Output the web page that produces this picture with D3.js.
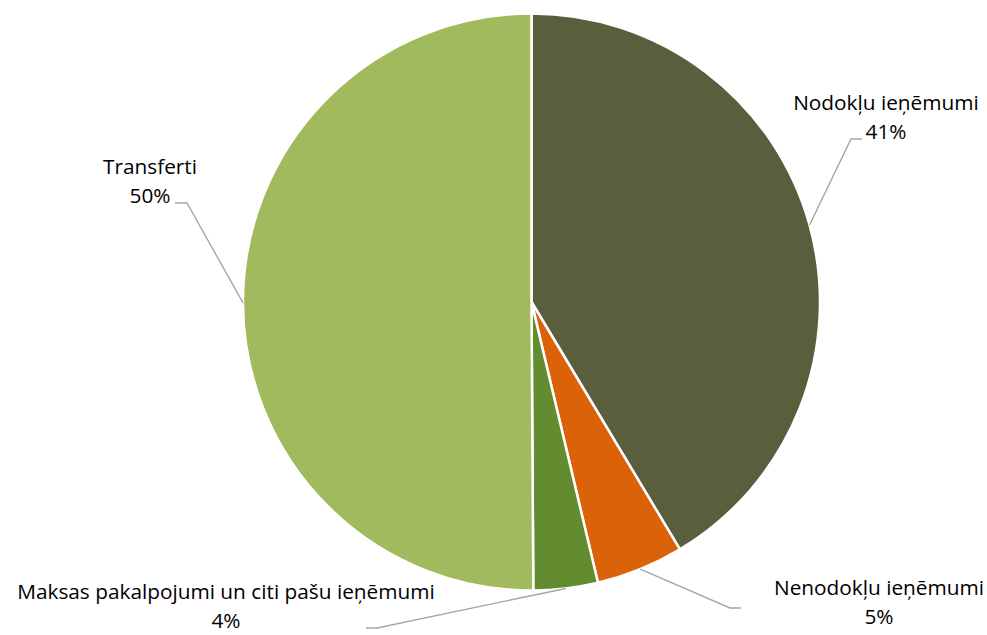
<!DOCTYPE html>
<html><head><meta charset="utf-8">
<script src="https://cdn.jsdelivr.net/npm/d3@7/dist/d3.min.js"></script>
<style>body{margin:0;background:#fff}svg{display:block}</style>
</head><body>
<svg id="c" width="987" height="635"></svg>
<script>
const categories = ["Nodokļu ieņēmumi", "Nenodokļu ieņēmumi", "Maksas pakalpojumi un citi pašu ieņēmumi", "Transferti"];
const values = [41.4, 4.9, 3.6, 50.1];
const colors = ["#5A5E3D", "#DC6209", "#638B2F", "#A1BA5D"];

// label layout: text centre x, first baseline y, elbow point, line end
const labelLayout = [
  {x: 886, y: 110, ex: 851, ey: 139, hx: 862},
  {x: 879, y: 595, ex: 730, ey: 608, hx: 741},
  {x: 226, y: 599, ex: 377, ey: 628, hx: 366},
  {x: 150, y: 174, ex: 187, ey: 203, hx: 175}
];

const svg = d3.select("#c");
const cx = 531.5, cy = 302, r = 288.5;
const total = d3.sum(values);
const pie = d3.pie().sort(null).value(d => d)(values);
const arc = d3.arc().innerRadius(0).outerRadius(r);
const g = svg.append("g").attr("transform", `translate(${cx},${cy})`);
g.selectAll("path").data(pie).join("path")
  .attr("d", arc)
  .attr("fill", (d, i) => colors[i])
  .attr("stroke", "#fff").attr("stroke-width", 2.5).attr("stroke-linejoin", "round");

pie.forEach((d, i) => {
  const a = (d.startAngle + d.endAngle) / 2;
  const px = cx + r * Math.sin(a), py = cy - r * Math.cos(a);
  const L = labelLayout[i];
  svg.append("polyline")
    .attr("points", `${px},${py} ${L.ex},${L.ey} ${L.hx},${L.ey}`)
    .attr("fill", "none").attr("stroke", "#A6A6A6").attr("stroke-width", 1.4);
  const t = svg.append("text")
    .attr("text-anchor", "middle")
    .attr("font-family", "'Open Sans', sans-serif")
    .attr("font-size", 20.8).attr("fill", "#000");
  t.append("tspan").attr("x", L.x).attr("y", L.y).text(categories[i]);
  t.append("tspan").attr("x", L.x).attr("y", L.y + 29).text(Math.round(d.data / total * 100) + "%");
});
</script>
</body></html>
